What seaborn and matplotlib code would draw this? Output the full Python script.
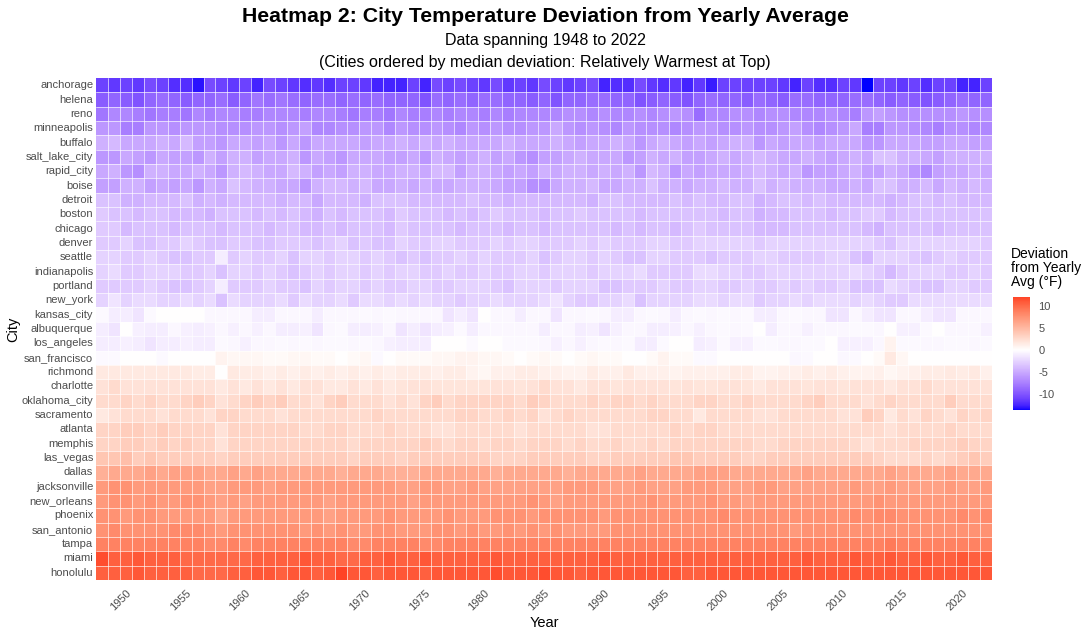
"""
City temperature deviation heatmap (ggplot-style look, drawn with seaborn).
"""

import numpy as np
import pandas as pd
import matplotlib
matplotlib.use("Agg")
import matplotlib.pyplot as plt
from matplotlib.colors import ListedColormap, Normalize
import seaborn as sns


# ─────────────────────────────────────────
# Data (deviation from yearly average, °F), years 1948-2022
# ─────────────────────────────────────────
years = list(range(1948, 2023))

cities = [
    "anchorage", "helena", "reno", "minneapolis", "buffalo", "salt_lake_city",
    "rapid_city", "boise", "detroit", "boston", "chicago", "denver", "seattle",
    "indianapolis", "portland", "new_york", "kansas_city", "albuquerque",
    "los_angeles", "san_francisco", "richmond", "charlotte", "oklahoma_city",
    "sacramento", "atlanta", "memphis", "las_vegas", "dallas", "jacksonville",
    "new_orleans", "phoenix", "san_antonio", "tampa", "miami", "honolulu",
]

anchorage = [
    -11, -11.5, -11, -11.5, -10.5, -11, -12, -12, -13.2, -10.5, -11, -11.5, -11, -12.5, -10.5, -11, -11.5, -12, -11.5, -12, -11, -11, -11.5, -12.5, -12.5,
    -12.5, -11, -12.5, -10.5, -11, -10.5, -11, -11.5, -10.5, -11.5, -11, -11.5, -10.5, -11, -11.5, -11, -10.5, -12.5, -12, -12, -10.5, -11.5, -12, -11.5, -12.5,
    -11.5, -12.8, -11, -11, -11, -11, -11, -11.5, -12.5, -11, -12, -12, -11, -11.5, -13.6, -11, -11, -11.5, -11, -12, -11, -11, -12.5, -12.5, -11,
]
helena = [
    -9.5, -9, -9.5, -10, -9, -8.5, -9, -9.5, -9, -9, -8.5, -9.5, -9, -8, -8.5, -8, -8.5, -9, -8.5, -8.5, -9, -8.5, -9, -8.5, -9,
    -9, -9, -10, -8.5, -9, -8.5, -9, -8.5, -8.5, -9, -9, -9.5, -9, -10, -9, -9, -8.5, -8.5, -9, -9, -10, -9.5, -9, -9.5, -10,
    -9, -8.5, -9, -9, -9.5, -8.5, -9, -9.5, -8.5, -8.5, -9, -9, -9, -8.5, -8.5, -9, -9.5, -9, -9.5, -10, -9.5, -9, -8.5, -9, -9,
]
reno = [
    -8, -7, -7, -7.5, -8, -7.5, -7.5, -8, -7, -7.5, -7, -7, -7.5, -7.5, -7, -7, -7, -7.5, -7, -7, -7.5, -8, -7.5, -7.5, -8,
    -7, -7.5, -7.5, -7, -7.5, -7, -7, -7.5, -7, -7.5, -7, -7, -7, -7, -6.5, -6.5, -7, -6.5, -7, -7, -6.5, -7, -6.5, -6, -6.5,
    -8.5, -7, -7, -6.5, -6.5, -7, -6.5, -6.5, -7, -7, -7, -6.5, -7, -7.5, -6, -5.5, -6, -6.5, -6.5, -6.5, -6.5, -6.5, -6, -6.5, -6.5,
]
minneapolis = [
    -6, -6, -7.5, -7.5, -6, -6, -6.5, -6, -6, -6, -6.5, -6.5, -6.5, -6, -6, -6.5, -6, -5.5, -7, -7, -6.5, -6.5, -6, -6, -7,
    -6, -6.5, -6.5, -6, -6.5, -7, -6, -6.5, -6, -6.5, -6.5, -6, -6, -5, -6, -6.5, -6, -6.5, -7, -6, -6.5, -6.5, -6.5, -7, -6.5,
    -6, -6, -6.5, -6.5, -6, -6.5, -6.5, -6, -5.5, -6.5, -7, -6.5, -6, -5, -7.5, -7.5, -6, -6, -6.5, -7, -7.5, -6.5, -6.5, -7, -7,
]
buffalo = [
    -4.5, -4, -5, -5, -5, -4.5, -5, -4, -5.5, -5.5, -6, -5, -5, -5.5, -5, -6, -5, -6, -5, -5, -5, -5, -5.5, -5, -5,
    -4.5, -5, -4.5, -5, -4.5, -5, -5, -5, -5, -4.5, -5, -5, -5, -4.5, -5, -5.5, -5, -5, -4.5, -5, -6, -5, -4.5, -5, -5.5,
    -5, -5.5, -5, -4.5, -4.5, -6, -5, -5.5, -5, -5, -5.5, -5, -5, -5, -6, -6, -5, -5, -5, -5.5, -5.5, -5, -5, -5.5, -5.5,
]
salt_lake_city = [
    -6, -6, -5, -5.5, -6, -5, -5.5, -5.5, -6, -4.5, -5.5, -4.5, -4.5, -5.5, -5, -5, -4.5, -6, -5, -5.5, -6, -5, -5, -5, -5.5,
    -5.5, -5, -6, -4.5, -5, -5.5, -5, -4.5, -5.5, -5, -6, -6.5, -5.5, -5.5, -5, -4.5, -5, -5, -5, -6, -5.5, -4.5, -5, -4.5, -5.5,
    -5.5, -5, -4.5, -5, -4.5, -4, -4.5, -5, -5, -4.5, -5, -5.5, -5, -4.5, -5, -3.5, -3.5, -4.5, -4.5, -5, -5.5, -4.5, -4.5, -4.5, -4.5,
]
rapid_city = [
    -5, -4.5, -6, -6.5, -4.5, -4.5, -5, -5, -4.5, -5, -6, -4.5, -4, -4.5, -5, -5, -4, -4.5, -5.5, -5, -5.5, -4.5, -4.5, -5, -5,
    -4.5, -4.5, -5, -4, -4, -5.5, -4.5, -4.5, -5, -5.5, -5, -5.5, -4.5, -5, -4.5, -4.5, -5, -4.5, -5, -4.5, -6, -4, -4.5, -6, -5,
    -5.5, -5, -5, -5, -4.5, -4, -4.5, -5, -4.5, -6, -5.5, -5.5, -5, -4.5, -5.5, -5.5, -4.5, -5, -6, -7, -5.5, -5, -5, -4.5, -5,
]
boise = [
    -5.5, -5.5, -4.5, -4.5, -5.5, -5, -5.5, -5, -6, -4.5, -5, -3.5, -4, -4.5, -4.5, -5, -5, -6, -4.5, -4, -4, -4.5, -4, -5, -5,
    -4.5, -5, -4.5, -5, -5, -4.5, -4.5, -4.5, -5, -5.5, -5.5, -6.5, -6.5, -5, -4.5, -4.5, -4, -5, -5, -4.5, -4.5, -3.5, -4.5, -4.5, -5,
    -4.5, -4.5, -4, -4.5, -4.5, -3.5, -4.5, -4, -4.5, -4.5, -4.5, -5, -5, -4.5, -5, -3.5, -3.5, -4.5, -4.5, -4, -5, -4, -4.5, -4, -4.5,
]
detroit = [
    -3.5, -3.5, -4.5, -4.5, -4, -4, -4, -3.5, -4.5, -4, -4.5, -4, -4, -4, -4, -4.5, -4, -4, -5, -4, -4, -4, -4.5, -3.5, -3.5,
    -3.5, -4, -4, -4, -4, -4, -3.5, -4, -4, -4.5, -4, -4, -4, -4, -4, -4, -4.5, -3.5, -3.5, -4, -4, -4, -4, -3.5, -4,
    -3.5, -4, -4, -3.5, -3.5, -4.5, -4, -3.5, -3.5, -4, -3.5, -4, -4, -4, -4, -4, -4.5, -4, -3.5, -3.5, -4, -3.5, -4, -4, -4,
]
boston = [
    -3, -3.5, -3.5, -4, -3.5, -3.5, -4, -4, -4, -4.5, -3.5, -3.5, -3.5, -4, -3.5, -4, -3.5, -4, -4.5, -3.5, -4, -3.5, -3.5, -3.5, -4,
    -3, -3.5, -3.5, -3.5, -4, -3.5, -4, -3.5, -3, -3.5, -3.5, -3.5, -4, -3.5, -3.5, -3, -3.5, -3.5, -3.5, -3.5, -4, -3.5, -3.5, -3.5, -3.5,
    -3.5, -3.5, -4, -3.5, -3.5, -4.5, -4, -4, -3.5, -3.5, -3.5, -4, -3.5, -3.5, -3, -3, -4, -3.5, -3.5, -3.5, -3.5, -3.5, -3.5, -3.5, -3.5,
]
chicago = [
    -3, -3, -4, -3.5, -3.5, -3.5, -4, -3.5, -3.5, -3.5, -4, -3.5, -3.5, -3.5, -4, -3.5, -3.5, -4, -4, -3.5, -4, -3.5, -3.5, -3.5, -4,
    -3, -3.5, -3.5, -3.5, -3.5, -4, -3.5, -3.5, -3.5, -4, -3.5, -3.5, -4, -3.5, -3.5, -3.5, -3.5, -3.5, -4, -3.5, -4, -3.5, -3.5, -4, -3.5,
    -3, -3.5, -3.5, -3.5, -3.5, -4, -4, -4, -3.5, -3.5, -3.5, -3.5, -3.5, -3.5, -4, -4.5, -3.5, -3.5, -3.5, -3.5, -4, -3.5, -3.5, -3.5, -3.5,
]
denver = [
    -3, -3, -2.5, -3.5, -3.5, -3, -3, -2.5, -3, -3.5, -3.5, -3, -3, -3.5, -3.5, -3, -3, -3, -3.5, -3, -2.5, -3.5, -3, -3.5, -3.5,
    -2.5, -3, -3, -2.5, -2.5, -3, -3, -3, -2.5, -3, -2.5, -2.5, -3, -3, -3, -2.5, -3, -2.5, -3, -3, -3, -2.5, -2.5, -3, -3,
    -2.5, -2.5, -2.5, -2.5, -2.5, -3, -2.5, -2.5, -2.5, -2.5, -2.5, -2.5, -2.5, -2.5, -2.5, -3, -3.5, -2.5, -2.5, -2.5, -2.5, -2.5, -2.5, -2.5, -3,
]
seattle = [
    -2.5, -2.5, -3, -3, -2.5, -3, -3.5, -3.5, -3, -3, -1, -3, -2.5, -3, -3, -2.5, -3.5, -2.5, -2.5, -3, -2.5, -2.5, -3, -2.5, -3,
    -3.5, -3, -3.5, -3, -3, -2.5, -3, -2.5, -3, -3, -3, -2.5, -3.5, -3, -2.5, -2.5, -3, -2.5, -3, -3.5, -3.5, -2.5, -2.5, -3, -3,
    -3, -3.5, -3, -3, -3, -2.5, -2.5, -3, -3, -3, -3, -2.5, -2.5, -3.5, -4, -2.5, -2.5, -2.5, -3, -3.5, -3, -2.5, -3, -3, -3,
]
indianapolis = [
    -2.5, -2, -3, -3, -2.5, -2.5, -2.5, -3, -3, -2.5, -3.5, -2.5, -2.5, -3, -2.5, -3, -3.5, -3, -2.5, -3, -2.5, -2.5, -3, -2.5, -3,
    -2.5, -2.5, -3, -3, -2.5, -3, -3, -2.5, -3, -3, -2.5, -2.5, -3, -2.5, -2.5, -2.5, -3, -2.5, -2.5, -2.5, -2, -3, -3, -3, -3,
    -2, -2, -2.5, -2.5, -3, -3, -2.5, -2.5, -2.5, -2.5, -2.5, -2.5, -2.5, -2, -2.5, -3, -4, -3, -2.5, -2.5, -2.5, -3, -3, -2.5, -3,
]
portland = [
    -3, -3, -3, -3, -2.5, -3, -3.5, -3.5, -3, -2.5, -1, -3, -3, -3, -2.5, -3, -3, -3.5, -2.5, -3, -2.5, -2.5, -3, -2.5, -3,
    -3, -2.5, -2.5, -3, -3, -2.5, -2.5, -2.5, -3, -3.5, -2.5, -2.5, -2.5, -3, -2.5, -2.5, -2.5, -3.5, -3.5, -3, -3, -3, -2.5, -3, -3,
    -2.5, -2.5, -3, -3, -2.5, -3, -3, -2.5, -3, -2.5, -3, -3, -2.5, -3.5, -3.5, -3.5, -2, -2.5, -3, -3.5, -3.5, -2.5, -2.5, -3, -3,
]
new_york = [
    -2.5, -1.5, -2.5, -2, -2, -2.5, -2.5, -2, -2.5, -2, -3.5, -2, -2.5, -2.5, -2.5, -2, -3, -2, -2.5, -2.5, -2, -3, -2, -2, -2.5,
    -2, -2.5, -2, -2.5, -2.5, -3, -2.5, -2.5, -2, -2.5, -2.5, -2.5, -2, -1.5, -2.5, -3, -3, -2.5, -2.5, -2, -3.5, -2.5, -2.5, -2.5, -2.5,
    -2, -2, -2.5, -2, -2, -3, -2.5, -2.5, -2, -2.5, -2, -2, -2, -2.5, -2, -2.5, -3, -3, -2, -2, -2, -2, -2, -2, -2,
]
kansas_city = [
    -0.3, -1, -1, -1.5, -0.3, 0, 0, 0, 0, -0.5, -0.5, -0.5, -0.5, -1, -1, -0.5, -0.5, -0.5, -1, -0.5, -0.5, -0.5, -0.3, -0.5, -0.3,
    -0.5, -0.5, -0.5, -0.5, -1.5, -1, -1.5, 0, -0.5, -0.5, -1, -0.5, -0.5, -1.5, -0.5, -0.5, -0.3, -0.5, -1, -1, -0.5, -0.3, -0.5, -1, -0.5,
    -0.3, -0.5, -0.3, -0.5, -0.3, -1, -1, -0.5, -0.3, -0.5, -0.5, -1.5, -1.5, -0.5, -1, -1.5, -1.5, -0.5, -0.5, -1, -1.5, -1.5, -0.5, -0.5, -0.5,
]
albuquerque = [
    -1, -1.5, 0, -0.8, -1, -1, -0.5, -0.8, -1, -0.8, -0.5, -0.8, -0.5, -0.8, -0.5, -1, -1, -0.8, -1.5, -0.5, -0.3, -1, -1, -0.8, -0.5,
    -1.5, -1, -1.5, -1, -0.8, -0.3, -1, -0.5, -0.5, -0.5, -0.5, -0.5, -1, -0.5, -0.5, -1, -0.8, -1.5, -0.8, -0.5, -0.5, -1, -1, -0.8, -0.5,
    -0.8, -0.5, -0.3, -0.5, -0.3, 0, -1, -0.5, -0.5, -0.8, -0.5, -0.5, -0.5, -0.3, -0.3, -0.5, 0, -0.8, -0.8, -0.3, 0, -0.5, -0.5, -0.5, -0.8,
]
los_angeles = [
    -1, -1, -0.8, -1, -1.5, -1, -1, -0.8, -1, -1, -0.3, -0.5, -0.8, -0.5, -0.5, -0.3, -0.5, -0.3, -0.5, -0.3, -0.3, -0.5, -0.3, -0.5, -0.8,
    -1, -1, -1, 0, 0, 0, -0.3, 0, 0, -0.3, -0.3, -0.3, -0.5, -0.8, -0.5, -0.8, -0.5, -0.3, -0.5, -0.3, -1, -1, -0.3, 0, 0,
    -1, -0.8, -0.3, -0.8, -0.8, -0.3, -0.3, -0.5, -0.5, -0.3, -0.3, 0, -0.8, -0.8, -0.8, -0.5, 0.8, -0.3, -0.3, -0.5, -0.5, -0.3, -0.3, -0.5, -0.3,
]
san_francisco = [
    -0.3, -0.3, 0, 0, 0, -0.3, 0, 0, 0, 0, 0.8, 0.5, 0.5, 0.5, 0.3, 0.3, 0.5, 0.5, 0.3, 0.3, 0, 0.3, 0.5, -0.3, 0,
    0.3, 0.3, 0.3, 0.5, 0.5, 0.8, 0.8, 0.5, 0.5, 0.3, 0, 0.3, 0.5, 0.3, 0, 0.3, 0.5, 0.3, 0.3, 0, 0, 0.3, 0.8, 0.3, 0.3,
    -0.3, -0.3, 0, 0, 0, 0, 0, 0, -0.5, -0.3, 0, 0, -0.5, -0.3, 0, 0.3, 1.5, 0.5, 0, 0, 0, 0, 0, 0, 0,
]
richmond = [
    1.5, 1.5, 1.5, 1.5, 1.5, 1.5, 1.5, 1.5, 1.3, 1.3, 0, 1.5, 1.3, 1.3, 1, 1.3, 1, 1.3, 1, 1.3, 1, 1.3, 1, 1.3, 1,
    1.3, 1.3, 1.3, 1, 1.3, 1.3, 0.8, 0.5, 1, 1, 1.3, 1.3, 1, 1, 0.8, 0.8, 1.3, 1, 1, 1.5, 1, 1, 1, 0.8, 1,
    1, 1, 1, 1.3, 1.3, 0.8, 0.8, 1, 1, 1.3, 1, 1.3, 1, 0.8, 0.8, 1, 0.5, 0.8, 1, 1.3, 1.3, 1.5, 1.3, 1.5, 1,
]
charlotte = [
    2, 2.5, 2, 2, 2, 2, 2, 2, 2, 2, 1.5, 2, 1.5, 2, 1.5, 2, 1.5, 2, 2, 1.5, 1.5, 2, 1.5, 2, 1.5,
    1.8, 2, 2, 1.8, 1.8, 1.8, 1.8, 1.8, 2, 2, 1.8, 2, 2.5, 2, 2, 1.5, 2, 2, 1.8, 2, 2, 2, 2, 1.8, 2,
    1.8, 1.8, 2, 2, 1.8, 1.5, 2, 2, 2, 1.8, 2, 2, 1.8, 2, 2, 2, 1.5, 2, 2, 2.5, 2, 2, 2, 2, 2,
]
oklahoma_city = [
    2.5, 2.5, 3, 2.5, 3, 2.5, 2.5, 3, 3.5, 3, 2, 2.5, 3, 3.5, 3, 3.5, 2.5, 2.5, 2, 3, 3.5, 2.5, 2.5, 2.5, 2,
    2.5, 2, 3, 3.5, 2.5, 3, 3, 3, 3, 3, 2.5, 3.5, 3, 2.5, 2.5, 2.5, 3, 2.5, 3, 3, 2.5, 3, 2.5, 2.5, 2.5,
    3, 3, 2.5, 2.5, 3, 2.5, 2.5, 2.5, 2.5, 3, 3.5, 2.5, 2.5, 2.5, 2, 2.5, 3, 2.5, 2.5, 2.5, 2.5, 3.5, 2.5, 2.5, 2.5,
]
sacramento = [
    1.5, 2, 2.5, 2.5, 2.5, 2, 2.5, 2.5, 2.5, 2, 3, 3, 2.5, 2.5, 2.5, 2, 2.5, 2.5, 2.5, 2.5, 2.5, 2.5, 2.5, 3, 2.5,
    2.5, 2.5, 2.5, 2.5, 2.5, 3, 3, 2.5, 2.5, 3, 2.5, 3, 2, 2.5, 3, 2.5, 2.5, 2.5, 2.5, 2.5, 2.5, 3, 3, 2.5, 2.5,
    1.5, 2.5, 2.5, 2.5, 2.5, 2, 2, 2.5, 2.5, 2.5, 2.5, 2.5, 2, 2, 3.5, 3, 1.5, 2.5, 2, 3, 2.5, 2, 3, 2.5, 3,
]
atlanta = [
    3, 3, 3.5, 3.5, 3, 3.5, 3, 3, 3, 3, 2, 3, 3, 3, 3, 3, 3, 2.5, 2.5, 3, 3, 2.5, 2.5, 2.5, 3,
    2.5, 2.5, 2.5, 2, 2, 2.5, 2.5, 2.5, 2.5, 2.5, 2, 2.5, 2.5, 2.5, 2.5, 2.5, 2, 2, 2.5, 2.5, 2.5, 2.5, 2.5, 3, 2.5,
    3, 3, 2.5, 2.5, 2.5, 2.5, 2.5, 2.5, 2.5, 2.5, 2.5, 2.5, 2.5, 2.5, 2.5, 2.5, 2, 2.5, 2.5, 2.5, 2.5, 3, 2.5, 2.5, 2.5,
]
memphis = [
    3, 3, 3.5, 3.5, 3, 3.5, 3, 3.5, 3, 3, 2, 3, 3, 3, 3, 3, 3, 3, 3, 3, 3, 2.5, 3, 3, 3,
    3, 3, 3.5, 3, 2.5, 3, 3, 2.5, 3, 3, 2.5, 3, 3, 3, 2.5, 3, 2.5, 2.5, 3, 2.5, 2.5, 3, 2.5, 3, 3,
    3, 3, 3, 3, 3, 2.5, 2.5, 3, 3, 3, 3, 3, 3, 2.5, 2, 2.5, 2.5, 2.5, 3, 3, 3, 3, 3.5, 3, 3,
]
las_vegas = [
    4, 4, 4.5, 3.5, 4, 3.5, 3.5, 3.5, 3.5, 3.5, 3, 3.5, 3.5, 3.5, 3.5, 3.5, 3.5, 3.5, 3.5, 3.5, 3.5, 3, 3.5, 3.5, 3.5,
    3, 3.5, 3.5, 3.5, 3.5, 3.5, 3.5, 3.5, 3, 3, 3, 3.5, 3.5, 3.5, 3.5, 3.5, 3, 3, 3.5, 3.5, 3.5, 3.5, 3.5, 4, 4,
    3.5, 3.5, 3.5, 3.5, 3, 3, 3.5, 3.5, 3.5, 3.5, 3.5, 3.5, 3.5, 3.5, 3.5, 3, 2.5, 2.5, 2.5, 3, 2.5, 3, 3.5, 4, 3.5,
]
dallas = [
    5.5, 6, 6, 6, 6.5, 6, 6.5, 6.5, 6.5, 6, 6, 6.5, 6, 6.5, 6, 6, 6, 6, 6, 6, 5.5, 6, 6, 6, 5.5,
    5.5, 5.5, 6, 6, 6, 6, 6, 6, 5.5, 6, 6, 6, 6, 6, 5.5, 6, 6, 6, 6, 6, 6.5, 6, 6, 6, 6,
    6.5, 6.5, 6.5, 6, 6, 6, 6, 6, 6, 6.5, 6, 6, 6, 6, 6, 6, 6.5, 6, 6, 6, 6, 6.5, 6, 6, 6,
]
jacksonville = [
    7, 7.5, 7.5, 7, 7, 7, 7, 7, 7, 6.5, 6.5, 7, 7, 7, 6.5, 7, 7, 7, 7, 7, 7, 7, 7, 7, 7,
    6.5, 6.5, 7, 7, 6.5, 6.5, 7, 6.5, 6.5, 6.5, 6.5, 6.5, 6.5, 6.5, 7, 7, 7, 6.5, 6.5, 6.5, 7, 6.5, 6.5, 6.5, 7,
    7, 7, 6.5, 6.5, 6.5, 7, 7, 6.5, 6.5, 6.5, 6.5, 6.5, 6.5, 7, 6.5, 6.5, 7, 6.5, 6.5, 6.5, 6.5, 7, 6.5, 6.5, 7,
]
new_orleans = [
    7, 7.5, 7.5, 7, 7.5, 7, 7, 7.5, 7.5, 7, 6.5, 7, 6.5, 7, 7, 7, 7, 7, 7, 6.5, 7, 7, 7, 7, 7,
    7, 6.5, 7, 7, 7, 7, 7, 7, 7, 7, 7, 7.5, 7, 6.5, 7, 7, 7, 7, 7, 7, 7, 7.5, 7, 7, 7,
    7, 7.5, 7, 7, 6.5, 7, 7, 7, 7, 7, 7, 7, 7, 7, 7, 7.5, 7, 7, 7, 7, 7, 7, 7, 7, 7,
]
phoenix = [
    7.5, 7.5, 7, 7.5, 7.5, 7, 7, 7, 7, 7, 6, 7, 7, 7, 7, 7, 7, 7, 7, 6.5, 7, 7, 7, 7, 7.5,
    7, 7, 7, 7, 7.5, 7, 7, 7, 7.5, 7.5, 7.5, 7, 7.5, 7.5, 7.5, 7.5, 7.5, 7, 7.5, 7.5, 7.5, 7.5, 7.5, 7.5, 7.5,
    7.5, 7.5, 8, 7.5, 7.5, 7.5, 7.5, 7.5, 7.5, 7.5, 7.5, 7.5, 7.5, 8, 7.5, 8, 8, 7.5, 7.5, 7.5, 7.5, 7.5, 8, 7.5, 8,
]
san_antonio = [
    7.5, 8, 7.5, 7.5, 7.5, 7.5, 8, 8, 8, 7.5, 7, 7.5, 7.5, 7.5, 7.5, 7.5, 7.5, 7, 7.5, 7, 7.5, 7, 7, 7.5, 7.5,
    7, 7, 7, 7.5, 7.5, 7, 7.5, 7, 7, 7.5, 7, 7.5, 7, 7.5, 7, 7, 7, 7, 7.5, 7.5, 7.5, 7.5, 7.5, 7.5, 7.5,
    7.5, 7.5, 7.5, 7.5, 7.5, 7.5, 7.5, 7.5, 7, 7.5, 7.5, 7.5, 7.5, 7.5, 7.5, 7.5, 7.5, 7.5, 7.5, 7.5, 7.5, 7.5, 7.5, 7.5, 7.5,
]
tampa = [
    8.5, 8.5, 8.5, 8.5, 8.5, 8.5, 8.5, 8.5, 8.5, 8, 8, 8.5, 8, 8.5, 8.5, 8.5, 8.5, 8.5, 8.5, 8.5, 8.5, 8, 8, 8.5, 8.5,
    8.5, 8.5, 8, 8, 8.5, 8.5, 8.5, 8.5, 8.5, 8.5, 8.5, 8.5, 8.5, 8.5, 8.5, 8.5, 8.5, 8.5, 8.5, 8.5, 8.5, 8.5, 8.5, 8.5, 8.5,
    8.5, 8.5, 8.5, 8.5, 8.5, 8.5, 8.5, 8.5, 8.5, 8.5, 8.5, 8.5, 8.5, 8.5, 8.5, 8.5, 9, 8.5, 8.5, 8.5, 8.5, 8.5, 8.5, 8.5, 8.5,
]
miami = [
    11.5, 10.5, 10.5, 11, 10.5, 10.5, 10.5, 10, 10, 10, 10, 10, 10, 10.5, 10.5, 10.5, 10.5, 11, 10.5, 10.5, 10, 10, 10.5, 10.5, 11,
    10.5, 10.5, 11, 10.5, 10.5, 10.5, 10.5, 10.5, 11, 10.5, 10.5, 10.5, 10.5, 10.5, 10.5, 10.5, 10.5, 11, 10.5, 10.5, 10.5, 10.5, 10.5, 10.5, 10.5,
    10.5, 10.5, 10.5, 10.5, 10.5, 10.5, 10.5, 10.5, 10.5, 11, 10.5, 10.5, 10.5, 11, 10.5, 10.5, 11, 10.5, 10.5, 11, 10.5, 10.5, 11, 10.5, 10.5,
]
honolulu = [
    10.5, 10.5, 10.5, 11, 10.5, 10.5, 10.5, 10.5, 10, 10, 10, 10.5, 10.5, 11, 11, 10.5, 11, 11, 10.5, 11, 12, 11, 11, 10.5, 11,
    11, 11, 10.5, 11, 11, 11, 11, 11, 11.5, 11, 11, 11, 11.5, 11, 11, 10.5, 11, 11, 11, 11, 11, 11, 11, 11, 10.5,
    10.5, 11, 11, 11, 11, 11, 11, 11, 11, 11, 11, 11, 11, 11, 11, 11, 11, 11, 11, 11, 11, 11, 11, 11, 11,
]

rows = [
    anchorage, helena, reno, minneapolis, buffalo, salt_lake_city, rapid_city,
    boise, detroit, boston, chicago, denver, seattle, indianapolis, portland,
    new_york, kansas_city, albuquerque, los_angeles, san_francisco, richmond,
    charlotte, oklahoma_city, sacramento, atlanta, memphis, las_vegas, dallas,
    jacksonville, new_orleans, phoenix, san_antonio, tampa, miami, honolulu,
]

tick_years = [1950, 1955, 1960, 1965, 1970, 1975, 1980, 1985, 1990, 1995, 2000, 2005, 2010, 2015, 2020]
cbar_ticks = [-10, -5, 0, 5, 10]


# ─────────────────────────────────────────
# Colour scale: blue - white - red, interpolated in CIELAB (like ggplot's gradient2)
# ─────────────────────────────────────────
WHITE_REF = np.array([0.95047, 1.0, 1.08883])
M_RGB2XYZ = np.array([
    [0.4124564, 0.3575761, 0.1804375],
    [0.2126729, 0.7151522, 0.0721750],
    [0.0193339, 0.1191920, 0.9503041],
])
M_XYZ2RGB = np.linalg.inv(M_RGB2XYZ)
EPS = (6 / 29) ** 3


def rgb_to_lab(rgb):
    c = np.asarray(rgb, dtype=float)
    lin = np.where(c <= 0.04045, c / 12.92, ((c + 0.055) / 1.055) ** 2.4)
    xyz = M_RGB2XYZ @ lin / WHITE_REF
    f = np.where(xyz > EPS, np.cbrt(xyz), xyz / (3 * (6 / 29) ** 2) + 4 / 29)
    return np.array([116 * f[1] - 16, 500 * (f[0] - f[1]), 200 * (f[1] - f[2])])


def lab_to_rgb(lab):
    L, a, b = lab
    fy = (L + 16) / 116
    f = np.array([fy + a / 500, fy, fy - b / 200])
    xyz = np.where(f > 6 / 29, f ** 3, 3 * (6 / 29) ** 2 * (f - 4 / 29)) * WHITE_REF
    lin = np.clip(M_XYZ2RGB @ xyz, 0, 1)
    c = np.where(lin <= 0.0031308, 12.92 * lin, 1.055 * lin ** (1 / 2.4) - 0.055)
    return np.clip(c, 0, 1)


def gradient2(vmin, vmax, n=256):
    """Colours for values vmin..vmax, midpoint 0 at white, symmetric rescale."""
    low, mid, high = rgb_to_lab([0, 0, 1]), rgb_to_lab([1, 1, 1]), rgb_to_lab([1, 0, 0])
    m = max(abs(vmin), abs(vmax))
    cols = []
    for v in np.linspace(vmin, vmax, n):
        t = 0.5 + v / (2 * m)
        if t < 0.5:
            lab = low + (mid - low) * (t / 0.5)
        else:
            lab = mid + (high - mid) * ((t - 0.5) / 0.5)
        cols.append(lab_to_rgb(lab))
    return ListedColormap(cols)


# ─────────────────────────────────────────
# Plot
# ─────────────────────────────────────────
df = pd.DataFrame(rows, index=cities, columns=years)
vmin, vmax = df.values.min(), df.values.max()
cmap = gradient2(vmin, vmax)

sns.set_style("white")
plt.rcParams["font.family"] = ["Liberation Sans", "DejaVu Sans"]

fig = plt.figure(figsize=(10.9, 6.35), dpi=100)
ax = fig.add_axes([96 / 1090, 1 - 580 / 635, 896 / 1090, 502 / 635])
cax = fig.add_axes([1013 / 1090, 1 - 410 / 635, 17 / 1090, 113 / 635])

sns.heatmap(
    df, ax=ax, cmap=cmap, norm=Normalize(vmin=vmin, vmax=vmax),
    linewidths=0, cbar_ax=cax, xticklabels=False, yticklabels=True,
)
# thin white tile borders
for i in range(1, len(years)):
    ax.axvline(i, color="white", lw=0.45)
for j in range(1, len(cities)):
    ax.axhline(j, color="white", lw=0.45)

ax.set_xticks([y - years[0] + 0.5 for y in tick_years])
ax.set_xticklabels([str(y) for y in tick_years], rotation=45, ha="right",
                   rotation_mode="anchor", fontsize=8, color="#4D4D4D")
ax.set_yticklabels(cities, rotation=0, fontsize=8, color="#4D4D4D")
ax.tick_params(axis="both", length=0, pad=2)
ax.tick_params(axis="x", pad=6)
ax.set_xlabel("Year", fontsize=10.5, labelpad=2, color="black")
ax.set_ylabel("City", fontsize=10.5, labelpad=1, color="black")

cax.set_yticks(cbar_ticks)
cax.set_yticklabels([str(t) for t in cbar_ticks], fontsize=8, color="#4D4D4D")
cax.tick_params(axis="y", which="both", direction="in", length=3, color="white",
                width=0.8, left=True, right=True, pad=6)
for sp in cax.spines.values():
    sp.set_visible(False)
fig.text(1011 / 1090, 1 - 247 / 635, "Deviation\nfrom Yearly\nAvg (°F)",
         fontsize=10, va="top", ha="left", linespacing=1.0, color="black")

fig.text(0.5, 1 - 16 / 635, "Heatmap 2: City Temperature Deviation from Yearly Average",
         ha="center", va="center", fontsize=15.3, fontweight="bold", color="black")
fig.text(0.5, 1 - 41 / 635, "Data spanning 1948 to 2022",
         ha="center", va="center", fontsize=11.5, color="black")
fig.text(0.5, 1 - 62 / 635, "(Cities ordered by median deviation: Relatively Warmest at Top)",
         ha="center", va="center", fontsize=11.5, color="black")

fig.savefig("out.png", dpi=100, facecolor="white")
